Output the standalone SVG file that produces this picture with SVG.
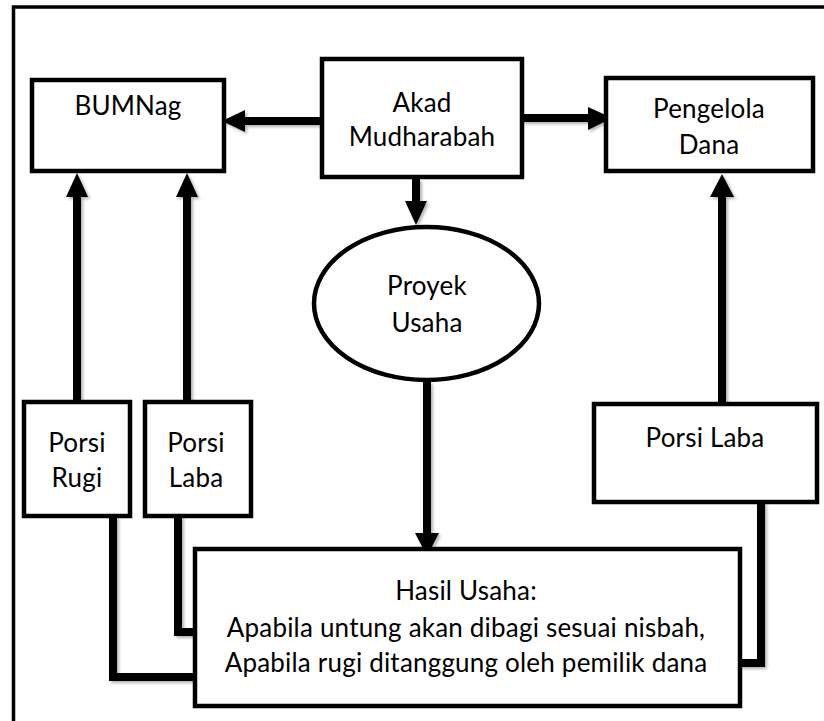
<svg xmlns="http://www.w3.org/2000/svg" width="824" height="721" viewBox="0 0 824 721">
<defs>
<style>
.box{fill:#fff;stroke:#000;stroke-width:4.5}
.frame{fill:none;stroke:#000;stroke-width:3.5}
.txt{font-family:Lato,"Open Sans",sans-serif;font-size:26px;letter-spacing:0.2px;fill:#000;text-anchor:middle}
.ln{fill:none;stroke:#000;stroke-width:8;stroke-linejoin:miter}
.ah{fill:#000}
</style>
<filter id="sh" x="-20%" y="-20%" width="140%" height="140%">
<feDropShadow dx="2" dy="2" stdDeviation="1.5" flood-color="#000" flood-opacity="0.3"/>
</filter>
</defs>
<rect width="824" height="721" fill="#fff"/>
<rect class="frame" x="13.5" y="7" width="1000" height="1000"/>

<g id="connectors" filter="url(#sh)">
<line class="ln" x1="322" y1="121" x2="244" y2="121"/>
<polygon class="ah" points="222,121 245,110 245,132"/>
<line class="ln" x1="522" y1="118" x2="590" y2="118"/>
<polygon class="ah" points="612,118 588,107 588,130"/>
<line class="ln" x1="416" y1="179" x2="416" y2="203"/>
<polygon class="ah" points="416,225 405,201 427,201"/>
<line class="ln" x1="77" y1="402" x2="77" y2="195"/>
<polygon class="ah" points="77,173 66,197 88,197"/>
<line class="ln" x1="187" y1="402" x2="187" y2="195"/>
<polygon class="ah" points="187,173 176,197 198,197"/>
<line class="ln" x1="722" y1="404" x2="722" y2="195"/>
<polygon class="ah" points="722,174 710,197 734,197"/>
<line class="ln" x1="427" y1="382" x2="427" y2="535"/>
<polygon class="ah" points="427,556 415,533 439,533"/>
<polyline class="ln" points="113,516 113,677 195,677"/>
<polyline class="ln" points="178,516 178,632 195,632"/>
<polyline class="ln" points="761,502 761,663 740,663"/>
</g>

<g id="bumnag">
<rect class="box" x="32" y="80" width="192" height="91"/>
<text class="txt" x="128" y="115">BUMNag</text>
</g>
<g id="akad">
<rect class="box" x="322" y="59" width="200" height="118"/>
<text class="txt" x="422" y="112">Akad</text>
<text class="txt" x="422" y="146">Mudharabah</text>
</g>
<g id="pengelola">
<rect class="box" x="606" y="78" width="207" height="93"/>
<text class="txt" x="709" y="118">Pengelola</text>
<text class="txt" x="709" y="154">Dana</text>
</g>
<g id="proyek">
<ellipse class="box" cx="426.5" cy="303.5" rx="112.5" ry="76.5"/>
<text class="txt" x="427" y="295">Proyek</text>
<text class="txt" x="427" y="332">Usaha</text>
</g>
<g id="porsi-rugi">
<rect class="box" x="24" y="402" width="106" height="114"/>
<text class="txt" x="77" y="452">Porsi</text>
<text class="txt" x="77" y="487">Rugi</text>
</g>
<g id="porsi-laba-kiri">
<rect class="box" x="145" y="402" width="106" height="114"/>
<text class="txt" x="196" y="452">Porsi</text>
<text class="txt" x="196" y="487">Laba</text>
</g>
<g id="porsi-laba-kanan">
<rect class="box" x="594" y="404" width="223" height="98"/>
<text class="txt" x="705" y="447">Porsi Laba</text>
</g>
<g id="hasil">
<rect class="box" x="195" y="549" width="545" height="157"/>
<text class="txt" x="466" y="600">Hasil Usaha:</text>
<text class="txt" x="466" y="637">Apabila untung akan dibagi sesuai nisbah,</text>
<text class="txt" x="466" y="672">Apabila rugi ditanggung oleh pemilik dana</text>
</g>
</svg>
